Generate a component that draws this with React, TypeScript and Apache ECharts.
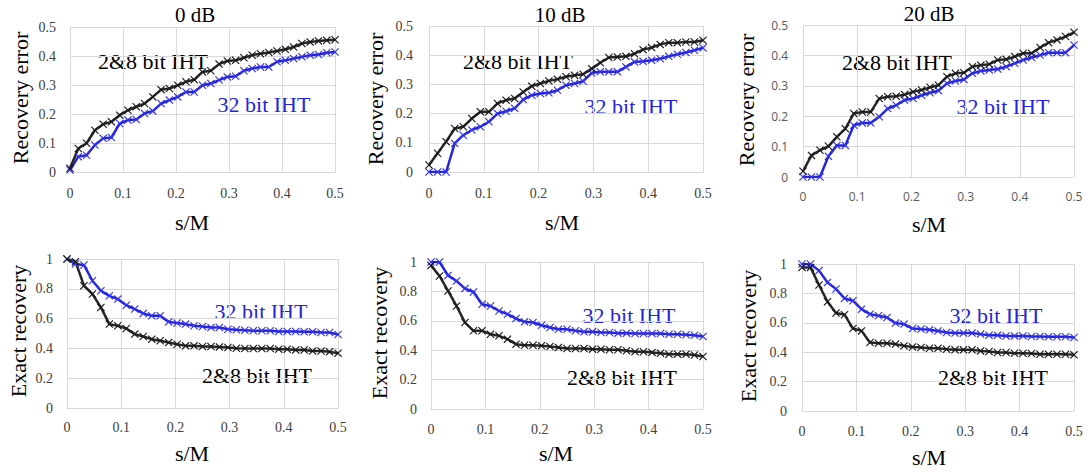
import React, { useEffect, useRef } from "react";
import * as echarts from "echarts";

// s/M sample points (33 points, step 1/64)
const sOverM = [
  0, 0.015625, 0.03125, 0.046875, 0.0625, 0.078125, 0.09375, 0.109375, 0.125,
  0.140625, 0.15625, 0.171875, 0.1875, 0.203125, 0.21875, 0.234375, 0.25,
  0.265625, 0.28125, 0.296875, 0.3125, 0.328125, 0.34375, 0.359375, 0.375,
  0.390625, 0.40625, 0.421875, 0.4375, 0.453125, 0.46875, 0.484375, 0.5,
];

const titles = ["0 dB", "10 dB", "20 dB"];
const xTicks = [0, 0.1, 0.2, 0.3, 0.4, 0.5];
const errTicks = [0, 0.1, 0.2, 0.3, 0.4, 0.5];
const exactTicks = [0, 0.2, 0.4, 0.6, 0.8, 1];
const seriesNames = ["2&8 bit IHT", "32 bit IHT"];

// Recovery error
const err0dB_28 = [0.013, 0.081, 0.099, 0.144, 0.165, 0.173, 0.196, 0.213, 0.225, 0.236, 0.259, 0.284, 0.288, 0.299, 0.311, 0.318, 0.345, 0.349, 0.372, 0.383, 0.385, 0.394, 0.403, 0.408, 0.412, 0.417, 0.423, 0.431, 0.443, 0.448, 0.452, 0.454, 0.456];
const err0dB_32 = [0.007, 0.053, 0.058, 0.093, 0.116, 0.119, 0.167, 0.179, 0.181, 0.202, 0.21, 0.236, 0.248, 0.259, 0.276, 0.276, 0.299, 0.305, 0.317, 0.328, 0.33, 0.349, 0.357, 0.362, 0.362, 0.38, 0.385, 0.391, 0.397, 0.403, 0.405, 0.411, 0.414];
const err10dB_28 = [0.024, 0.064, 0.104, 0.149, 0.155, 0.183, 0.206, 0.206, 0.235, 0.246, 0.252, 0.274, 0.294, 0.303, 0.312, 0.318, 0.326, 0.331, 0.335, 0.354, 0.374, 0.392, 0.394, 0.396, 0.405, 0.419, 0.426, 0.437, 0.443, 0.443, 0.445, 0.445, 0.451];
const err10dB_32 = [0, 0, 0, 0.098, 0.126, 0.144, 0.155, 0.172, 0.2, 0.208, 0.218, 0.248, 0.263, 0.269, 0.271, 0.28, 0.297, 0.303, 0.311, 0.339, 0.343, 0.343, 0.343, 0.36, 0.377, 0.379, 0.383, 0.388, 0.396, 0.403, 0.409, 0.417, 0.425];
const err20dB_28 = [0.019, 0.071, 0.088, 0.101, 0.132, 0.159, 0.209, 0.214, 0.214, 0.258, 0.264, 0.266, 0.271, 0.28, 0.286, 0.295, 0.302, 0.33, 0.341, 0.343, 0.363, 0.368, 0.371, 0.385, 0.387, 0.396, 0.407, 0.407, 0.426, 0.442, 0.451, 0.462, 0.476];
const err20dB_32 = [0, 0, 0, 0.068, 0.104, 0.104, 0.17, 0.178, 0.178, 0.198, 0.225, 0.236, 0.253, 0.258, 0.269, 0.277, 0.284, 0.308, 0.316, 0.321, 0.341, 0.349, 0.352, 0.355, 0.363, 0.374, 0.385, 0.393, 0.401, 0.409, 0.409, 0.409, 0.434];

// Exact recovery
const exact0dB_28 = [1, 0.982, 0.821, 0.765, 0.675, 0.563, 0.552, 0.534, 0.496, 0.48, 0.462, 0.451, 0.439, 0.428, 0.417, 0.417, 0.413, 0.413, 0.41, 0.406, 0.401, 0.399, 0.399, 0.399, 0.399, 0.395, 0.395, 0.39, 0.39, 0.383, 0.383, 0.377, 0.368];
const exact0dB_32 = [1, 0.966, 0.96, 0.854, 0.787, 0.753, 0.731, 0.69, 0.664, 0.635, 0.619, 0.619, 0.578, 0.57, 0.563, 0.552, 0.547, 0.54, 0.54, 0.529, 0.525, 0.522, 0.518, 0.518, 0.518, 0.513, 0.513, 0.513, 0.511, 0.511, 0.507, 0.507, 0.493];
const exact10dB_28 = [0.977, 0.905, 0.803, 0.701, 0.588, 0.532, 0.532, 0.509, 0.498, 0.475, 0.441, 0.434, 0.434, 0.43, 0.425, 0.419, 0.412, 0.412, 0.412, 0.407, 0.407, 0.403, 0.403, 0.396, 0.389, 0.389, 0.385, 0.38, 0.373, 0.373, 0.373, 0.367, 0.357];
const exact10dB_32 = [1, 1, 0.909, 0.871, 0.819, 0.796, 0.713, 0.701, 0.667, 0.645, 0.615, 0.593, 0.588, 0.57, 0.554, 0.543, 0.543, 0.532, 0.525, 0.525, 0.52, 0.52, 0.516, 0.516, 0.514, 0.514, 0.514, 0.514, 0.509, 0.509, 0.505, 0.502, 0.493];
const exact20dB_28 = [0.977, 0.977, 0.857, 0.743, 0.666, 0.655, 0.561, 0.545, 0.466, 0.461, 0.461, 0.455, 0.443, 0.436, 0.432, 0.427, 0.427, 0.42, 0.416, 0.416, 0.416, 0.409, 0.405, 0.398, 0.398, 0.393, 0.393, 0.391, 0.386, 0.386, 0.386, 0.386, 0.382];
const exact20dB_32 = [1, 1, 0.955, 0.875, 0.83, 0.766, 0.75, 0.693, 0.659, 0.648, 0.636, 0.598, 0.591, 0.561, 0.557, 0.552, 0.545, 0.534, 0.53, 0.53, 0.53, 0.523, 0.516, 0.516, 0.511, 0.511, 0.511, 0.507, 0.507, 0.505, 0.505, 0.505, 0.5];

const BLACK = "#262626";
const BLUE = "#2424dc";
const SERIF = "Liberation Serif";
const SANS = "Open Sans";
const XMARK = "path://M0,1L1,0L5,4L9,0L10,1L6,5L10,9L9,10L5,6L1,10L0,9L4,5Z";

type Panel = {
  grid: { left: number; top: number; width: number; height: number };
  yTicks: number[];
  s28: number[];
  s32: number[];
  tickFont: string;
  tickSize: number;
  tickColor: string;
  yMargin: number;
  xMargin: number;
};

const panels: Panel[] = [
  { grid: { left: 70, top: 27, width: 265, height: 145 }, yTicks: errTicks, s28: err0dB_28, s32: err0dB_32, tickFont: SERIF, tickSize: 14, tickColor: "#404040", yMargin: 14, xMargin: 14 },
  { grid: { left: 429, top: 26, width: 274, height: 146 }, yTicks: errTicks, s28: err10dB_28, s32: err10dB_32, tickFont: SERIF, tickSize: 14, tickColor: "#404040", yMargin: 16, xMargin: 14 },
  { grid: { left: 803, top: 25, width: 271, height: 152 }, yTicks: errTicks, s28: err20dB_28, s32: err20dB_32, tickFont: SANS, tickSize: 12, tickColor: "#595959", yMargin: 15, xMargin: 13 },
  { grid: { left: 67, top: 259, width: 271, height: 149 }, yTicks: exactTicks, s28: exact0dB_28, s32: exact0dB_32, tickFont: SERIF, tickSize: 14, tickColor: "#404040", yMargin: 14, xMargin: 12 },
  { grid: { left: 431, top: 262, width: 272, height: 147 }, yTicks: exactTicks, s28: exact10dB_28, s32: exact10dB_32, tickFont: SERIF, tickSize: 14, tickColor: "#404040", yMargin: 14, xMargin: 13 },
  { grid: { left: 802, top: 264, width: 272, height: 147 }, yTicks: exactTicks, s28: exact20dB_28, s32: exact20dB_32, tickFont: SERIF, tickSize: 14, tickColor: "#404040", yMargin: 15, xMargin: 13 },
];

const titlePos = [[195, 15], [560, 15], [929, 14]];
const yNamePos: [number, number, string][] = [[20, 98, "Recovery error"], [375, 99, "Recovery error"], [746, 100, "Recovery error"], [18, 331, "Exact recovery"], [379, 333, "Exact recovery"], [748, 336, "Exact recovery"]];
const xNamePos = [[192, 222], [562, 222], [929, 224], [192, 453], [556, 453], [929, 457]];
const label28Pos = [[153, 61], [518, 61], [897, 62], [257, 375], [622, 377], [993, 377]];
const label32Pos = [[264, 104], [631, 106], [1003, 106], [261, 311], [629, 315], [996, 315]];

function txt(x: number, y: number, text: string, size: number, fill: string, rotation = 0) {
  return {
    type: "text",
    x,
    y,
    rotation,
    style: {
      text,
      fontFamily: SERIF,
      fontSize: size,
      fontWeight: "normal",
      fill,
      textAlign: "center",
      textVerticalAlign: "middle",
    },
  };
}

export default function App() {
  const ref = useRef<HTMLDivElement>(null);
  useEffect(() => {
    if (!ref.current) return;
    const chart = echarts.init(ref.current, undefined, { renderer: "svg" });

    const grids = panels.map((p) => ({ ...p.grid, containLabel: false }));
    const xAxes = panels.map((p, i) => ({
      type: "value",
      gridIndex: i,
      min: xTicks[0],
      max: xTicks[xTicks.length - 1],
      interval: 0.1,
      axisLine: { show: true, lineStyle: { color: "#d9d9d9", width: 1 } },
      axisTick: { show: false },
      splitLine: { show: true, lineStyle: { color: "#d9d9d9", width: 1 } },
      axisLabel: { fontFamily: p.tickFont, fontSize: p.tickSize, color: p.tickColor, margin: p.xMargin },
    }));
    const yAxes = panels.map((p, i) => ({
      type: "value",
      gridIndex: i,
      min: p.yTicks[0],
      max: p.yTicks[p.yTicks.length - 1],
      interval: p.yTicks[1] - p.yTicks[0],
      axisLine: { show: false },
      axisTick: { show: false },
      splitLine: { show: true, lineStyle: { color: "#d9d9d9", width: 1 } },
      axisLabel: { fontFamily: p.tickFont, fontSize: p.tickSize, color: p.tickColor, margin: p.yMargin },
    }));
    const series: any[] = [];
    panels.forEach((p, i) => {
      series.push({
        type: "line",
        name: seriesNames[1],
        xAxisIndex: i,
        yAxisIndex: i,
        data: sOverM.map((x, k) => [x, p.s32[k]]),
        symbol: XMARK,
        symbolSize: 8,
        showAllSymbol: true,
        lineStyle: { color: BLUE, width: 2.5 },
        itemStyle: { color: "#3232ee" },
      });
      series.push({
        type: "line",
        name: seriesNames[0],
        xAxisIndex: i,
        yAxisIndex: i,
        data: sOverM.map((x, k) => [x, p.s28[k]]),
        symbol: XMARK,
        symbolSize: 8,
        showAllSymbol: true,
        lineStyle: { color: BLACK, width: 2.5 },
        itemStyle: { color: "#1a1a1a" },
      });
    });

    const graphics: any[] = [];
    titles.forEach((t, i) => graphics.push(txt(titlePos[i][0], titlePos[i][1], t, 21, "#000")));
    yNamePos.forEach((p) => graphics.push(txt(p[0], p[1], p[2], 22, "#000", Math.PI / 2)));
    xNamePos.forEach((p) => graphics.push(txt(p[0], p[1], "s/M", 22, "#000")));
    label28Pos.forEach((p) => graphics.push(txt(p[0], p[1], seriesNames[0], 22, "#000")));
    label32Pos.forEach((p) => graphics.push(txt(p[0], p[1], seriesNames[1], 22, BLUE)));

    chart.setOption({
      animation: false,
      backgroundColor: "#ffffff",
      grid: grids,
      xAxis: xAxes,
      yAxis: yAxes,
      series,
      graphic: graphics,
    });
    return () => chart.dispose();
  }, []);

  return (
    <div
      ref={ref}
      style={{ position: "absolute", left: 0, top: 0, width: 1090, height: 472, background: "#fff" }}
    />
  );
}
